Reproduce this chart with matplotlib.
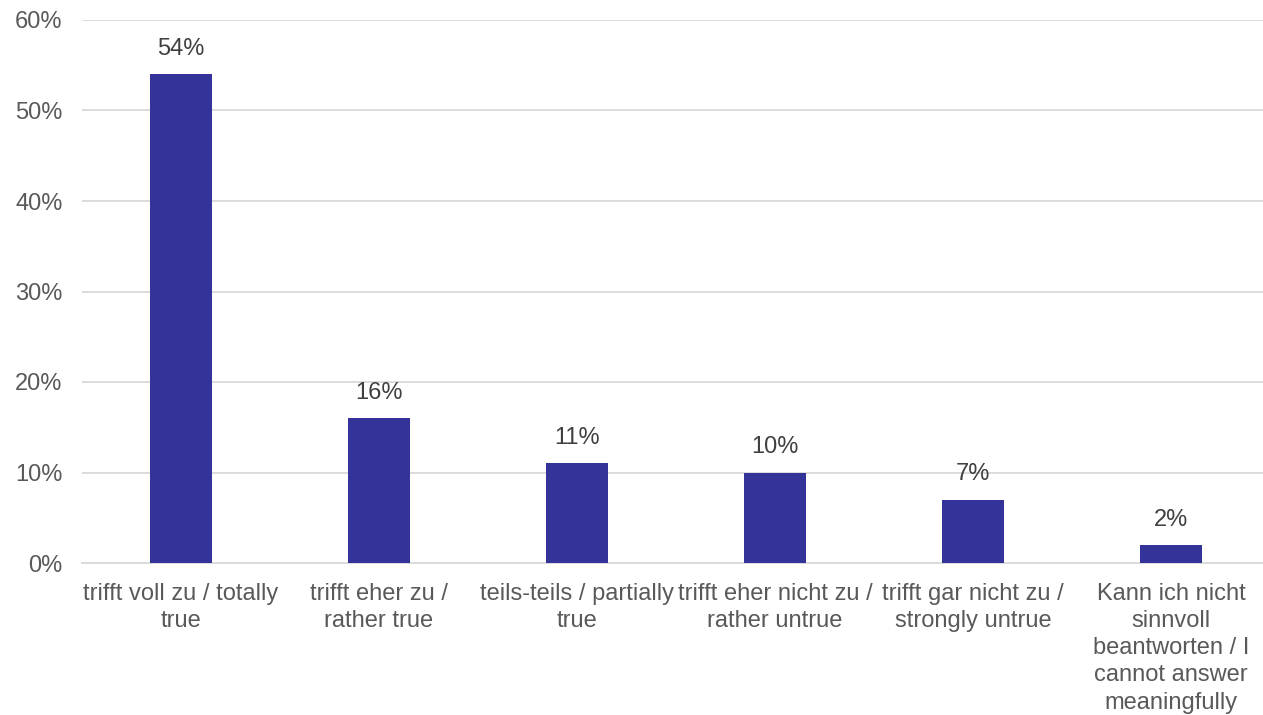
import matplotlib
matplotlib.use("Agg")
import matplotlib.pyplot as plt
from matplotlib.ticker import FuncFormatter

categories = [
    "trifft voll zu / totally\ntrue",
    "trifft eher zu /\nrather true",
    "teils-teils / partially\ntrue",
    "trifft eher nicht zu /\nrather untrue",
    "trifft gar nicht zu /\nstrongly untrue",
    "Kann ich nicht\nsinnvoll\nbeantworten / I\ncannot answer\nmeaningfully",
]
values = [54, 16, 11, 10, 7, 2]
yticks = [0, 10, 20, 30, 40, 50, 60]

plt.rcParams['font.family'] = ['Liberation Sans', 'DejaVu Sans']
text_color = '#595959'
fs = 17

fig = plt.figure(figsize=(12.63, 7.15), dpi=100)
ax = fig.add_axes([82/1263, (715-563)/715, 1 - 82/1263, (563-20)/715])

x = list(range(len(categories)))
bars = ax.bar(x, values, width=0.315, color='#333399', zorder=3)
for xi, v in zip(x, values):
    ax.text(xi, v + 2.8, f"{v}%", ha='center', va='center', fontsize=fs, color='#404040')

ax.set_xlim(-0.5, 5.465)
ax.set_ylim(0, 60)
ax.set_yticks(yticks)
ax.yaxis.set_major_formatter(FuncFormatter(lambda v, p: f"{int(v)}%"))
ax.set_xticks(x)
ax.set_xticklabels(categories, fontsize=fs, color=text_color, linespacing=1.30)
ax.tick_params(axis='y', labelsize=fs, labelcolor=text_color, length=0, pad=14)
ax.tick_params(axis='x', length=0, pad=14.5)
ax.grid(axis='y', color='#d9d9d9', linewidth=1.3, zorder=0)
for s in ['top', 'right', 'left']:
    ax.spines[s].set_visible(False)
ax.spines['bottom'].set_color('#d9d9d9')
ax.spines['bottom'].set_linewidth(1.3)

fig.savefig('out.png', dpi=100)
